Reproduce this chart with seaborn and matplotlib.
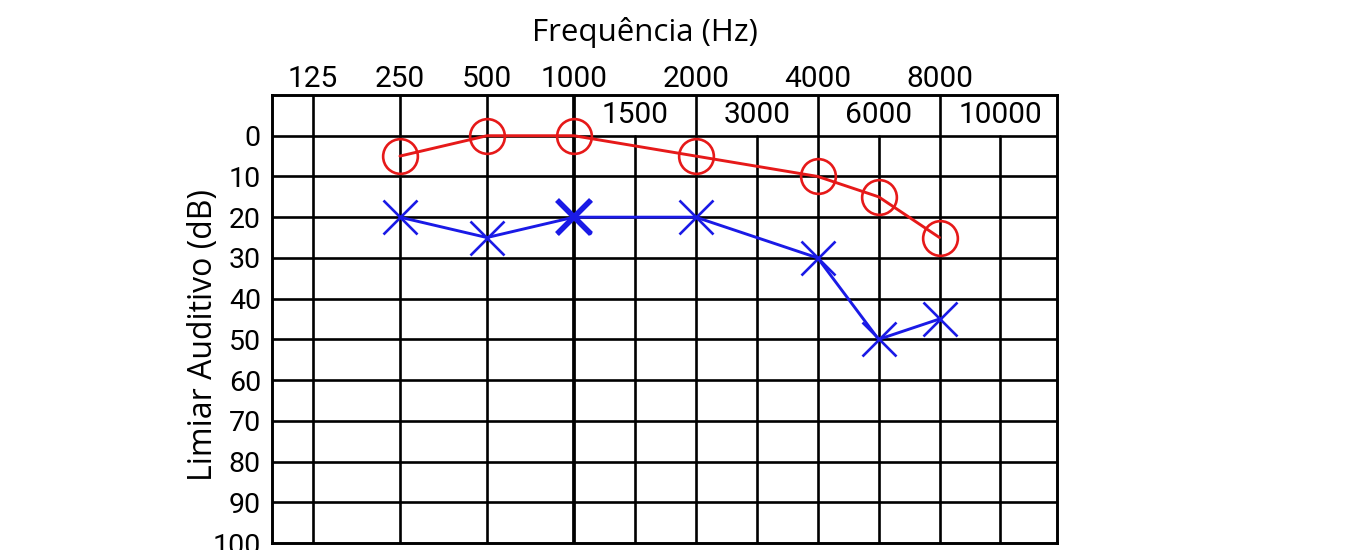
import matplotlib
matplotlib.use("Agg")
import matplotlib.pyplot as plt
import seaborn as sns
import pandas as pd

# dados do audiograma
freqs = [250, 500, 1000, 2000, 4000, 6000, 8000]
orelha_dir = [5, 0, 0, 5, 10, 15, 25]      # circulos vermelhos
orelha_esq = [20, 25, 20, 20, 30, 50, 45]  # cruzes azuis

oitavas = [125, 250, 500, 1000, 2000, 4000, 8000]
meias = [1500, 3000, 6000, 10000]
db_ticks = [0, 10, 20, 30, 40, 50, 60, 70, 80, 90, 100]

# posicao horizontal de cada frequencia no grafico
pos = {125: 0, 250: 1, 500: 2, 1000: 3, 1500: 3.7, 2000: 4.4, 3000: 5.1,
       4000: 5.8, 6000: 6.5, 8000: 7.2, 10000: 7.9}

df = pd.DataFrame({"x": [pos[f] for f in freqs], "dir": orelha_dir, "esq": orelha_esq})

sns.set_style("white")
plt.rcParams["font.family"] = ["Open Sans", "DejaVu Sans"]
plt.rcParams["text.color"] = "black"
plt.rcParams["axes.labelcolor"] = "black"
plt.rcParams["ytick.color"] = "black"

VERM = "#e61919"
AZUL = "#1a1ae6"

fig = plt.figure(figsize=(13.62, 5.5), dpi=100)
ax = fig.add_axes([272 / 1362, 7 / 550, 785 / 1362, 448 / 550])

ax.set_xlim(-0.47, 8.55)
ax.set_ylim(100, -10)

# grade
for y in db_ticks[:-1]:
    ax.axhline(y, color="black", lw=1.9, zorder=1)
for f in oitavas:
    ax.axvline(pos[f], color="black", lw=2.7 if f == 1000 else 1.9, zorder=1)
for f in meias:
    ax.plot([pos[f], pos[f]], [0, 100], color="black", lw=1.9, zorder=1)

for s in ax.spines.values():
    s.set_visible(True)
    s.set_color("black")
    s.set_linewidth(2.1)

# curvas
sns.lineplot(data=df, x="x", y="dir", ax=ax, color=VERM, lw=2.1,
             marker="o", markersize=25, markerfacecolor="none",
             markeredgecolor=VERM, markeredgewidth=1.9, zorder=3)
sns.lineplot(data=df, x="x", y="esq", ax=ax, color=AZUL, lw=2.1,
             marker="x", markersize=25, markeredgecolor=AZUL,
             markeredgewidth=1.9, zorder=3)
i = freqs.index(1000)
ax.plot(df["x"][i], orelha_esq[i], marker="x", markersize=25,
        markeredgewidth=4, color=AZUL, zorder=4)

# rotulos
ax.set_xticks([])
ax.set_yticks(db_ticks)
ax.set_yticklabels([str(v) for v in db_ticks], family="Roboto", fontsize=20.5)
ax.tick_params(axis="y", length=0, pad=8)
ax.set_xlabel("")
ax.set_ylabel("Limiar Auditivo (dB)", fontsize=23)
ax.yaxis.set_label_coords(-0.066, 0.464)

for f in oitavas:
    ax.text(pos[f], -14.0, str(f), ha="center", va="center",
            family="Roboto", fontsize=21.5)
for f in meias:
    ax.text(pos[f], -5, str(f), ha="center", va="center",
            family="Roboto", fontsize=21.5)

fig.text(645 / 1362, 1 - 33 / 550, "Frequência (Hz)", ha="center", va="center",
         fontsize=22.5)

fig.savefig("out.png", dpi=100)
